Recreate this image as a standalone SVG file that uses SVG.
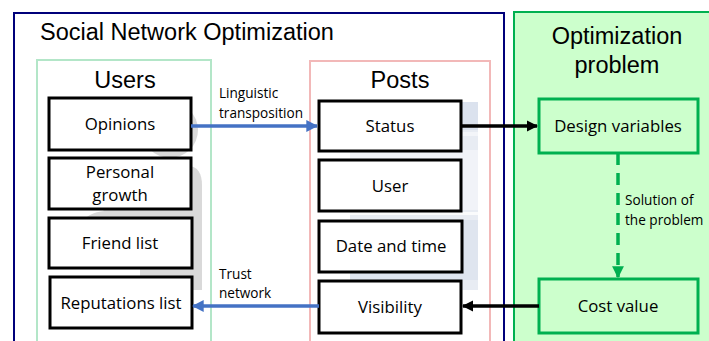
<svg xmlns="http://www.w3.org/2000/svg" width="709" height="341" viewBox="0 0 709 341">
  <style>
    .title { font-family: "Liberation Sans", Arial, sans-serif; font-size: 23.5px; fill: #000; }
    .box { fill: #fff; stroke: #000; stroke-width: 3; }
    .gbox { fill: #ccffcc; stroke: #00b050; stroke-width: 3; }
    .lbl { font-family: "Open Sans", "Liberation Sans", sans-serif; font-size: 16.8px; fill: #000; text-anchor: middle; }
    .small { font-family: "Open Sans", "Liberation Sans", sans-serif; font-size: 13.6px; fill: #000; }
    .blue { stroke: #4472c4; stroke-width: 3.5; fill: none; }
    .black { stroke: #000; stroke-width: 3.5; fill: none; }
  </style>
  <defs>
    <marker id="ahBlue" viewBox="0 0 10 10" refX="9" refY="5" markerWidth="3.4" markerHeight="3.4" orient="auto">
      <path d="M0,0 L10,5 L0,10 z" fill="#4472c4"/>
    </marker>
    <marker id="ahBlack" viewBox="0 0 10 10" refX="9" refY="5" markerWidth="3.2" markerHeight="3.2" orient="auto">
      <path d="M0,0 L10,5 L0,10 z" fill="#000"/>
    </marker>
    <marker id="ahGreen" viewBox="0 0 10 10" refX="9" refY="5" markerWidth="3.4" markerHeight="3.4" orient="auto">
      <path d="M0,0 L10,5 L0,10 z" fill="#00b050"/>
    </marker>
  </defs>

  <rect width="709" height="341" fill="#fff"/>

  <!-- Social network frame -->
  <g id="social-network">
    <rect x="14" y="13" width="490" height="340" fill="none" stroke="#00007a" stroke-width="2"/>
    <text class="title" x="40" y="40">Social Network Optimization</text>
  </g>

  <!-- Optimization problem panel -->
  <g id="optimization-panel">
    <rect x="514" y="12" width="200" height="340" fill="#ccffcc" stroke="#00b050" stroke-width="2"/>
    <text class="title" x="617" y="44" text-anchor="middle">Optimization</text>
    <text class="title" x="617" y="73" text-anchor="middle">problem</text>
  </g>

  <!-- Users column with faded people icon behind -->
  <g id="users">
    <rect x="37" y="60" width="174" height="290" fill="#fff" stroke="#b3e6c8" stroke-width="2"/>
    <g fill="#d9d9d9">
      <circle cx="170" cy="130" r="28"/>
      <path d="M140,290 L140,185 C140,172 150,166 165,166 L188,166 C198,166 202,174 202,185 L202,290 z"/>
      <circle cx="129" cy="190" r="33"/>
      <path d="M80,266 L80,232 C80,218 92,211 108,211 L152,211 C168,211 178,220 178,235 L178,266 z"/>
    </g>
    <text class="title" x="125" y="88" text-anchor="middle">Users</text>
  </g>

  <!-- Posts column with faded page mockup behind -->
  <g id="posts">
    <rect x="310" y="61" width="180" height="290" fill="#fff" stroke="#f2b8b8" stroke-width="2"/>
    <g>
      <rect x="350" y="102" width="128" height="188" fill="#e8ecf3"/>
      <rect x="350" y="102" width="128" height="28" fill="#dbe2ee"/>
      <rect x="350" y="132" width="128" height="4" fill="#f3f5f9"/>
      <rect x="350" y="150" width="128" height="60" fill="#f1f3f8"/>
      <rect x="350" y="212" width="128" height="3" fill="#fafbfc"/>
      <rect x="350" y="220" width="128" height="60" fill="#dfe5ef"/>
    </g>
    <text class="title" x="400" y="88" text-anchor="middle">Posts</text>
  </g>

  <!-- User attributes -->
  <g id="opinions">
    <rect class="box" x="49" y="98" width="142" height="52"/>
    <text class="lbl" x="120" y="130">Opinions</text>
  </g>
  <g id="personal-growth">
    <rect class="box" x="49" y="158" width="142" height="51"/>
    <text class="lbl" x="120" y="178">Personal</text>
    <text class="lbl" x="120" y="201">growth</text>
  </g>
  <g id="friend-list">
    <rect class="box" x="49" y="218" width="143" height="50"/>
    <text class="lbl" x="120" y="249">Friend list</text>
  </g>
  <g id="reputations-list">
    <rect class="box" x="50" y="277" width="142" height="51"/>
    <text class="lbl" x="121" y="309">Reputations list</text>
  </g>

  <!-- Post attributes -->
  <g id="status">
    <rect class="box" x="319" y="101" width="142" height="50"/>
    <text class="lbl" x="390" y="132">Status</text>
  </g>
  <g id="user">
    <rect class="box" x="319" y="160" width="142" height="51"/>
    <text class="lbl" x="390" y="192">User</text>
  </g>
  <g id="date-time">
    <rect class="box" x="319" y="221" width="143" height="51"/>
    <text class="lbl" x="391" y="252">Date and time</text>
  </g>
  <g id="visibility">
    <rect class="box" x="319" y="281" width="142" height="52"/>
    <text class="lbl" x="390" y="313">Visibility</text>
  </g>

  <!-- Optimization blocks -->
  <g id="design-variables">
    <rect class="gbox" x="539" y="99" width="159" height="54"/>
    <text class="lbl" x="618" y="132">Design variables</text>
  </g>
  <g id="cost-value">
    <rect class="gbox" x="539" y="279" width="159" height="54"/>
    <text class="lbl" x="618" y="312">Cost value</text>
  </g>

  <!-- Connectors -->
  <g id="connectors">
    <line class="blue" x1="191" y1="126" x2="317" y2="126" marker-end="url(#ahBlue)"/>
    <line class="blue" x1="319" y1="306" x2="193" y2="306" marker-end="url(#ahBlue)"/>
    <line class="black" x1="461" y1="126" x2="537" y2="126" marker-end="url(#ahBlack)"/>
    <line class="black" x1="539" y1="306" x2="463" y2="306" marker-end="url(#ahBlack)"/>
    <line x1="618" y1="153" x2="618" y2="277" stroke="#00b050" stroke-width="3.5" stroke-dasharray="12,8" marker-end="url(#ahGreen)"/>
    <text class="small" x="219" y="98">Linguistic</text>
    <text class="small" x="219" y="118">transposition</text>
    <text class="small" x="219" y="279">Trust</text>
    <text class="small" x="219" y="298">network</text>
    <text class="small" x="625" y="205">Solution of</text>
    <text class="small" x="625" y="225">the problem</text>
  </g>
</svg>
